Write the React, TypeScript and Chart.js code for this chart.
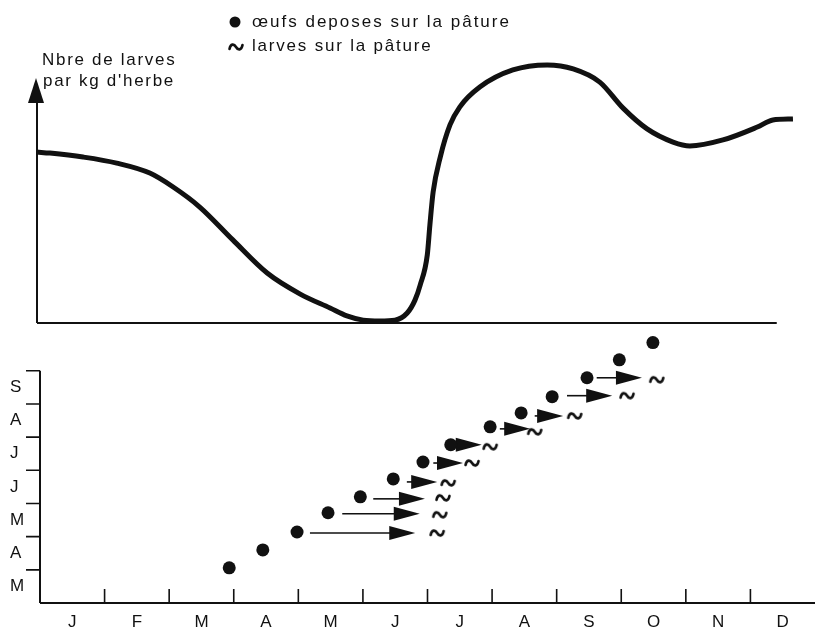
import React, { useEffect, useRef } from 'react';
import { Chart, registerables } from 'chart.js';

Chart.register(...registerables);

// ---------- DATA ----------
const MONTHS_X = ['J', 'F', 'M', 'A', 'M', 'J', 'J', 'A', 'S', 'O', 'N', 'D'];
const MONTHS_Y = ['M', 'A', 'M', 'J', 'J', 'A', 'S'];

const LEGEND_LABELS = ['œufs deposes sur la pâture', 'larves sur la pâture'];
const Y_TITLE = ['Nbre de larves', "par kg d'herbe"];

// top curve: larvae per kg of grass (x in months from 1 Jan, y relative 0-100)
const CURVE_X = [0, 0.2, 0.71, 1.23, 1.74, 2.1, 2.51, 3.02, 3.55, 4.06, 4.52, 4.78, 5.03, 5.29, 5.52, 5.71, 5.83, 5.91, 6.02, 6.06, 6.11, 6.22, 6.37, 6.52, 6.83, 7.34, 7.87, 8.27, 8.68, 9.04, 9.41, 9.81, 10.07, 10.58, 11.11, 11.35, 11.66];
const CURVE_Y = [65, 64.6, 63.1, 60.8, 57, 51.7, 44.1, 31.6, 19, 11, 5.7, 2.7, 1.1, 0.8, 1.1, 3.8, 8.7, 14.4, 25.9, 37.3, 49.8, 63.1, 75.3, 82.1, 89.7, 96.2, 98.1, 96.6, 91.6, 81.7, 73.8, 68.8, 67.3, 69.6, 74.5, 77.2, 77.6];
const TOP_AXIS_END_X = 11.41;
const TOP_AXIS_TOP_Y = 93.2;

// bottom: eggs deposited (x = month of observation, y = month of deposit)
const EGG_X = [2.93, 3.45, 3.98, 4.46, 4.96, 5.47, 5.93, 6.36, 6.97, 7.45, 7.93, 8.47, 8.97, 9.49];
const EGG_Y = [1.06, 1.6, 2.14, 2.72, 3.2, 3.74, 4.25, 4.77, 5.31, 5.73, 6.22, 6.79, 7.33, 7.85];

// development arrows (from, to, level)
const ARROW_FROM = [4.18, 4.68, 5.16, 5.68, 6.09, 6.38, 7.12, 7.66, 8.16, 8.62];
const ARROW_TO = [5.81, 5.88, 5.96, 6.15, 6.55, 6.84, 7.59, 8.1, 8.86, 9.32];
const ARROW_Y = [2.11, 2.69, 3.14, 3.65, 4.22, 4.77, 5.25, 5.64, 6.25, 6.79];

// larvae on pasture
const LARVA_X = [6.15, 6.19, 6.24, 6.32, 6.69, 6.97, 7.66, 8.28, 9.09, 9.55];
const LARVA_Y = [2.11, 2.66, 3.17, 3.62, 4.22, 4.71, 5.16, 5.64, 6.25, 6.73];

const Y_MAX = 8.2;

// ---------- STYLE ----------
const INK = '#111111';
const FAMILY = '"Liberation Sans", Arial, Helvetica, sans-serif';

function makeTilde(): HTMLCanvasElement {
  const c = document.createElement('canvas');
  c.width = 18;
  c.height = 12;
  const g = c.getContext('2d')!;
  g.strokeStyle = INK;
  g.lineWidth = 2.6;
  g.lineCap = 'round';
  g.beginPath();
  g.moveTo(2.5, 8);
  g.bezierCurveTo(3.5, 2.5, 7, 2.5, 9, 6);
  g.bezierCurveTo(11, 9.5, 14.5, 9.5, 15.5, 4);
  g.stroke();
  return c;
}

const topAxesPlugin = {
  id: 'topAxes',
  beforeDatasetsDraw(chart: any) {
    const { ctx } = chart;
    const xs = chart.scales.x;
    const ys = chart.scales.y;
    const x0 = xs.getPixelForValue(0);
    const y0 = ys.getPixelForValue(0);
    const tipY = ys.getPixelForValue(TOP_AXIS_TOP_Y);
    ctx.save();
    ctx.strokeStyle = INK;
    ctx.fillStyle = INK;
    ctx.lineWidth = 2;
    ctx.beginPath();
    ctx.moveTo(x0, y0);
    ctx.lineTo(xs.getPixelForValue(TOP_AXIS_END_X), y0);
    ctx.stroke();
    ctx.beginPath();
    ctx.moveTo(x0, y0);
    ctx.lineTo(x0, tipY + 20);
    ctx.stroke();
    ctx.beginPath();
    ctx.moveTo(x0 - 1, tipY);
    ctx.lineTo(x0 + 7, tipY + 25);
    ctx.lineTo(x0 - 9, tipY + 25);
    ctx.closePath();
    ctx.fill();
    ctx.restore();
  },
  afterDraw(chart: any) {
    const { ctx } = chart;
    ctx.save();
    ctx.fillStyle = INK;
    ctx.font = `17px ${FAMILY}`;
    ctx.textBaseline = 'alphabetic';
    ctx.textAlign = 'left';
    (ctx as any).letterSpacing = '1.7px';
    ctx.fillText(Y_TITLE[0], 42, 65);
    ctx.fillText(Y_TITLE[1], 43, 86);
    (ctx as any).letterSpacing = '2px';
    ctx.fillText(LEGEND_LABELS[0], 252, 27);
    (ctx as any).letterSpacing = '1.8px';
    ctx.fillText(LEGEND_LABELS[1], 252, 51);
    (ctx as any).letterSpacing = '0px';
    ctx.beginPath();
    ctx.arc(235, 22, 5.5, 0, Math.PI * 2);
    ctx.fill();
    const t = chart.$tilde as HTMLCanvasElement;
    if (t) ctx.drawImage(t, 236 - t.width / 2, 47 - t.height / 2);
    ctx.restore();
  },
};

const bottomAxesPlugin = {
  id: 'bottomAxes',
  beforeDatasetsDraw(chart: any) {
    const { ctx } = chart;
    const xs = chart.scales.x;
    const ys = chart.scales.y;
    const x0 = xs.getPixelForValue(0);
    const y0 = ys.getPixelForValue(0);
    ctx.save();
    ctx.strokeStyle = INK;
    ctx.lineWidth = 2;
    ctx.beginPath();
    ctx.moveTo(x0, y0);
    ctx.lineTo(x0, ys.getPixelForValue(MONTHS_Y.length));
    ctx.moveTo(x0, y0);
    ctx.lineTo(xs.getPixelForValue(MONTHS_X.length), y0);
    ctx.stroke();
    ctx.lineWidth = 1.6;
    ctx.beginPath();
    for (let v = 1; v <= MONTHS_Y.length; v++) {
      const y = ys.getPixelForValue(v);
      ctx.moveTo(x0 - 14, y);
      ctx.lineTo(x0, y);
    }
    for (let v = 1; v < MONTHS_X.length; v++) {
      const x = xs.getPixelForValue(v);
      ctx.moveTo(x, y0);
      ctx.lineTo(x, y0 - 14);
    }
    ctx.stroke();
    // arrows
    ctx.lineWidth = 1.6;
    ctx.fillStyle = INK;
    for (let i = 0; i < ARROW_FROM.length; i++) {
      const a = xs.getPixelForValue(ARROW_FROM[i]);
      const b = xs.getPixelForValue(ARROW_TO[i]);
      const y = ys.getPixelForValue(ARROW_Y[i]);
      const head = Math.min(26, b - a);
      ctx.beginPath();
      ctx.moveTo(a, y);
      ctx.lineTo(b - head + 1, y);
      ctx.stroke();
      ctx.beginPath();
      ctx.moveTo(b - head, y - 7);
      ctx.lineTo(b, y);
      ctx.lineTo(b - head, y + 7);
      ctx.closePath();
      ctx.fill();
    }
    ctx.restore();
  },
};

export default function App() {
  const topRef = useRef<HTMLCanvasElement>(null);
  const botRef = useRef<HTMLCanvasElement>(null);

  useEffect(() => {
    const tilde = makeTilde();
    const top = new Chart(topRef.current!, {
      type: 'line',
      data: {
        datasets: [
          {
            label: 'larves',
            data: CURVE_X.map((x, i) => ({ x, y: CURVE_Y[i] })),
            borderColor: INK,
            borderWidth: 5,
            pointRadius: 0,
            fill: false,
            cubicInterpolationMode: 'monotone',
            clip: false,
          } as any,
        ],
      },
      options: {
        animation: false,
        responsive: false,
        devicePixelRatio: 1,
        events: [],
        layout: { autoPadding: false, padding: { left: 37, top: 60, right: 0, bottom: 12 } },
        plugins: { legend: { display: false }, tooltip: { enabled: false } },
        scales: {
          x: { type: 'linear', min: 0, max: 12, display: false },
          y: { type: 'linear', min: 0, max: 100, display: false },
        },
      },
      plugins: [topAxesPlugin],
    });
    (top as any).$tilde = tilde;
    top.draw();

    const tickFont = { family: FAMILY, size: 17 };
    const bottom = new Chart(botRef.current!, {
      type: 'scatter',
      data: {
        datasets: [
          {
            label: LEGEND_LABELS[0],
            data: EGG_X.map((x, i) => ({ x, y: EGG_Y[i] })),
            pointRadius: 6.5,
            pointBackgroundColor: INK,
            pointBorderWidth: 0,
            clip: false,
          } as any,
          {
            label: LEGEND_LABELS[1],
            data: LARVA_X.map((x, i) => ({ x, y: LARVA_Y[i] })),
            pointStyle: tilde,
            pointRadius: 8,
            clip: false,
          } as any,
        ],
      },
      options: {
        animation: false,
        responsive: false,
        devicePixelRatio: 1,
        events: [],
        layout: { autoPadding: false, padding: { left: 10, top: 11, right: 0, bottom: 0 } },
        plugins: { legend: { display: false }, tooltip: { enabled: false } },
        scales: {
          x: {
            type: 'linear',
            min: 0,
            max: MONTHS_X.length,
            grid: { display: false, drawTicks: false },
            border: { display: false },
            afterBuildTicks: (s: any) => {
              s.ticks = MONTHS_X.map((_, i) => ({ value: i + 0.5 }));
            },
            afterFit: (s: any) => {
              s.height = 24;
              s.paddingLeft = 0;
              s.paddingRight = 0;
            },
            ticks: {
              autoSkip: false,
              maxRotation: 0,
              padding: 9,
              color: INK,
              font: tickFont,
              callback: (_v: any, i: number) => MONTHS_X[i],
            },
          },
          y: {
            type: 'linear',
            min: 0,
            max: Y_MAX,
            grid: { display: false, drawTicks: false },
            border: { display: false },
            afterBuildTicks: (s: any) => {
              s.ticks = MONTHS_Y.map((_, i) => ({ value: i + 0.5 }));
            },
            afterFit: (s: any) => {
              s.width = 30;
              s.paddingTop = 0;
              s.paddingBottom = 0;
            },
            ticks: {
              autoSkip: false,
              crossAlign: 'far',
              color: INK,
              font: tickFont,
              callback: (_v: any, i: number) => MONTHS_Y[i],
            },
          },
        },
      },
      plugins: [bottomAxesPlugin],
    });

    return () => {
      top.destroy();
      bottom.destroy();
    };
  }, []);

  return (
    <div style={{ position: 'absolute', left: 0, top: 0, width: 815, height: 627, background: '#fff', overflow: 'hidden' }}>
      <canvas ref={topRef} width={815} height={335} style={{ position: 'absolute', left: 0, top: 0, width: 815, height: 335 }} />
      <canvas ref={botRef} width={815} height={307} style={{ position: 'absolute', left: 0, top: 320, width: 815, height: 307 }} />
    </div>
  );
}
